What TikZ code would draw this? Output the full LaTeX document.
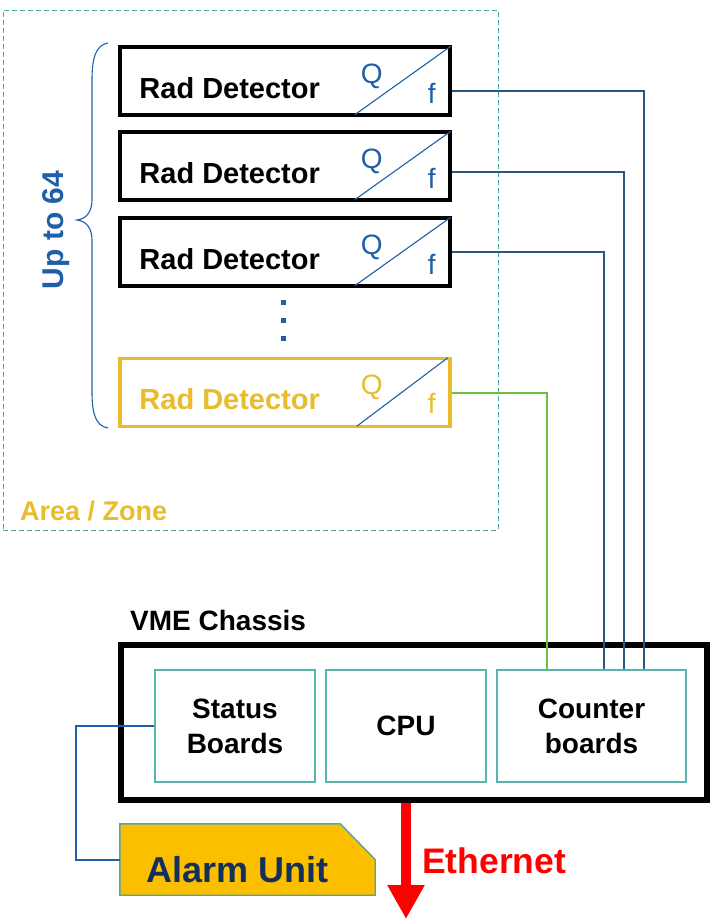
\documentclass[tikz,border=0pt]{standalone}
\usepackage{fontspec}
\setmainfont{Liberation Sans}
\usetikzlibrary{arrows.meta,calc}
\definecolor{zoneteal}{HTML}{4BA8A0}
\definecolor{boardteal}{HTML}{58B5AC}
\definecolor{qblue}{HTML}{1F5FAA}
\definecolor{wireblue}{HTML}{2B5680}
\definecolor{detyellow}{HTML}{E8BC2C}
\definecolor{wiregreen}{HTML}{6ABF45}
\definecolor{alarmfill}{HTML}{FBBF00}
\definecolor{alarmtext}{HTML}{12305A}
\newcommand\myfs[2]{\fontsize{#1}{#2}\selectfont}
\begin{document}
\begin{tikzpicture}[x=1pt,y=-1pt,
  det/.style={draw=black, line width=3.5pt, minimum width=330pt, minimum height=68pt, inner sep=0pt},
  dettxt/.style={anchor=base west, inner sep=0pt, font=\myfs{29}{30}\bfseries},
  qftxt/.style={anchor=base, inner sep=0pt, font=\myfs{28}{30}, text=qblue},
  diag/.style={draw=qblue, line width=1.1pt},
  wire/.style={draw=wireblue, line width=2pt},
  greenwire/.style={draw=wiregreen, line width=2pt},
  board/.style={draw=boardteal, line width=1.2pt, minimum width=160pt, minimum height=112pt,
    align=center, inner sep=0pt, font=\myfs{28}{35}\bfseries},
  lbl/.style={anchor=base west, inner sep=0pt, font=\myfs{28}{30}\bfseries}
]
\useasboundingbox (0,0) rectangle (710,919);

% Area / Zone
\node[draw=zoneteal, line width=1pt, dash pattern=on 5pt off 3pt,
      minimum width=495pt, minimum height=520pt, inner sep=0pt] (zone) at (250.5,270) {};
\node[lbl, text=detyellow, font=\myfs{27}{30}\bfseries] (zonelbl) at (20,520) {Area / Zone};

% brace + label
\draw[draw=qblue, line width=1.1pt] (108,43) .. controls (95,45) and (92,60) .. (92,80)
  -- (92,200) .. controls (92,212) and (86,219) .. (77,220)
  .. controls (86,221) and (92,228) .. (92,240)
  -- (92,392) .. controls (92,412) and (95,426) .. (108,428);
\node[rotate=90, anchor=base, inner sep=0pt, text=qblue, font=\myfs{30}{30}\bfseries] (upto) at (63,230) {Up to 64};

% detectors
\foreach \i/\y in {1/81,2/166,3/252} {
  \node[det] (d\i) at (285,\y) {};
  \node[dettxt] (rt\i) at ([xshift=21pt,yshift=-17pt]d\i.west) {Rad Detector};
  \node[qftxt] (q\i) at ([xshift=-80pt,yshift=-2pt]d\i.east) {Q};
  \node[qftxt] (f\i) at ([xshift=-20pt,yshift=-22pt]d\i.east) {f};
  \draw[diag] ([xshift=-97pt,yshift=2pt]d\i.south east) -- ([xshift=-1pt,yshift=-1pt]d\i.north east);
}
\node[det, draw=detyellow] (d4) at (285,392.5) {};
\node[dettxt, text=detyellow] (rt4) at ([xshift=21pt,yshift=-17pt]d4.west) {Rad Detector};
\node[qftxt, text=detyellow] (q4) at ([xshift=-80pt,yshift=-2pt]d4.east) {Q};
\node[qftxt, text=detyellow] (f4) at ([xshift=-20pt,yshift=-21pt]d4.east) {f};
\draw[diag] ([xshift=-95pt,yshift=2pt]d4.south east) -- ([xshift=-4pt,yshift=-1pt]d4.north east);

% vertical dots
\foreach \j/\y in {1/302,2/320,3/338}
  \node[fill=qblue, minimum size=5pt, inner sep=0pt] (dot\j) at (283,\y) {};

% VME chassis
\node[lbl] (vmelbl) at (130,630) {VME Chassis};
\node[draw=black, line width=6pt, minimum width=586pt, minimum height=155pt, inner sep=0pt] (ch) at (413.75,722.3) {};
\node[board] (sb) at (235,726) {Status\\Boards};
\node[board] (cpu) at (406,726) {CPU};
\node[board, minimum width=189pt] (cb) at (591.5,726) {Counter\\boards};

% wires
\foreach \i/\ys/\xs in {1/-10/52.5,2/-6/32.5,3/0/12.5}
  \draw[wire] ([yshift=\ys pt]d\i.east) -| ([xshift=\xs pt]cb.north);
\draw[greenwire] (d4.east) -| ([xshift=-44.5pt]cb.north);

% alarm unit
\node[minimum width=255pt, minimum height=71pt, inner sep=0pt] (au) at (247.5,859.5) {};
\filldraw[fill=alarmfill, draw=zoneteal, line width=1.4pt]
  (au.north west) -- ([xshift=-35pt]au.north east) -- (au.east) -- (au.south east) -- (au.south west) -- cycle;
\node[anchor=base west, inner sep=0pt, text=alarmtext, font=\myfs{36}{36}\bfseries] (autxt) at (146,882) {Alarm Unit};
\draw[draw=qblue, line width=2pt] (sb.west) -- ++(-78pt,0) |- (au.west);

% Ethernet
\coordinate (ethend) at (406,919);
\draw[draw=red, line width=10pt, -{Triangle[width=35pt,length=34pt]}] (cpu.south |- ch.south) -- (ethend);
\node[anchor=base west, inner sep=0pt, text=red, font=\myfs{35.5}{36}\bfseries] (ethlbl) at (422,873) {Ethernet};
\end{tikzpicture}
\end{document}
